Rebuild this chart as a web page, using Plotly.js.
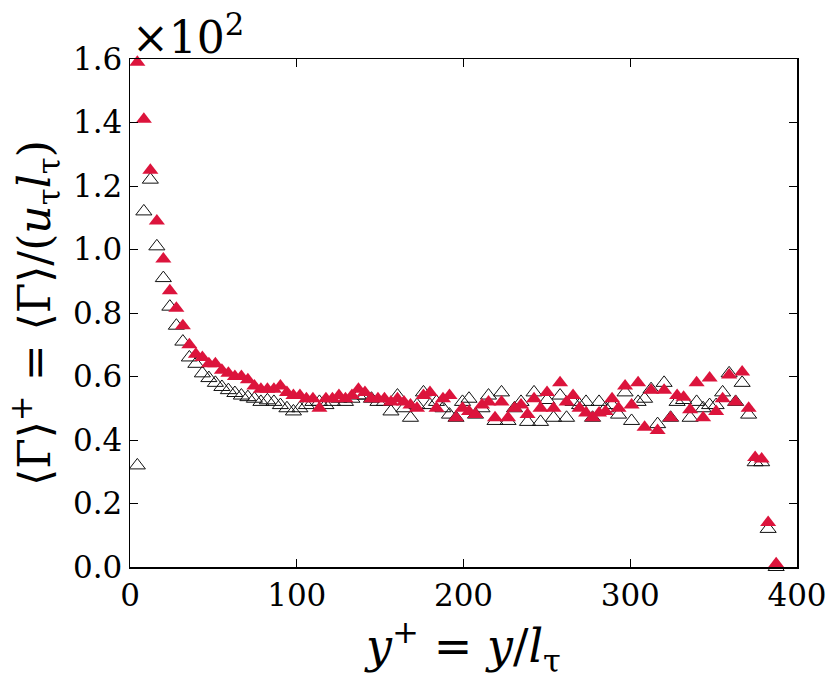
<!DOCTYPE html>
<html>
<head>
<meta charset="utf-8">
<script src="https://cdn.plot.ly/plotly-3.0.1.min.js"></script>
<style>html,body{margin:0;padding:0;background:#fff;}#chart{width:831px;height:686px;}</style>
</head>
<body>
<div id="chart"></div>
<script>
const yPlus = [4.4, 8.3, 12.2, 16.1, 20.0, 23.9, 27.8, 31.7, 35.6, 39.5, 43.4, 47.3, 51.2, 55.1, 59.0, 62.9, 66.8, 70.7, 74.6, 78.5,
  82.4, 86.3, 90.2, 94.1, 98.0, 101.9, 105.8, 109.7, 113.6, 117.5, 121.4, 125.3, 129.2, 133.1, 137.0, 140.9, 144.8, 148.7, 152.6, 156.5,
  160.4, 164.3, 168.2, 172.1, 176.0, 179.9, 183.8, 187.7, 191.6, 195.5, 199.4, 203.3, 207.2, 211.1, 215.0, 218.9, 222.8, 226.7, 230.6, 234.5,
  238.4, 242.3, 246.2, 250.1, 254.0, 257.9, 261.8, 265.7, 269.6, 273.5, 277.4, 281.3, 285.2, 289.1, 293.0, 296.9, 300.8, 304.7, 308.6, 312.5,
  316.4, 320.3, 324.2, 328.1, 332.0, 335.9, 339.8, 343.7, 347.6, 351.5, 355.4, 359.3, 363.2, 367.1, 371.0, 374.9, 378.8, 382.7, 387.5];

const gammaFilled = [1.59, 1.41, 1.25, 1.09, 0.97, 0.87, 0.815, 0.76, 0.70, 0.67, 0.66, 0.64, 0.64, 0.62, 0.61, 0.60, 0.60, 0.59, 0.57, 0.56,
  0.56, 0.56, 0.57, 0.55, 0.54, 0.54, 0.53, 0.53, 0.50, 0.53, 0.53, 0.54, 0.53, 0.54, 0.56, 0.55, 0.53, 0.53, 0.53, 0.52,
  0.53, 0.52, 0.51, 0.50, 0.54, 0.55, 0.50, 0.53, 0.54, 0.47, 0.50, 0.49, 0.48, 0.51, 0.52, 0.47, 0.52, 0.47, 0.50, 0.51,
  0.48, 0.53, 0.50, 0.55, 0.50, 0.58, 0.52, 0.54, 0.50, 0.485, 0.47, 0.485, 0.49, 0.53, 0.50, 0.57, 0.51, 0.58, 0.44, 0.557,
  0.43, 0.557, 0.47, 0.54, 0.535, 0.495, 0.58, 0.47, 0.595, 0.49, 0.53, 0.605, 0.52, 0.614, 0.50, 0.345, 0.34, 0.14, 0.01];

const gammaOpen = [0.32, 1.12, 1.22, 1.01, 0.91, 0.82, 0.76, 0.71, 0.66, 0.64, 0.61, 0.595, 0.58, 0.567, 0.557, 0.548, 0.54, 0.535, 0.53, 0.52,
  0.525, 0.52, 0.51, 0.50, 0.49, 0.50, 0.51, 0.52, 0.52, 0.51, 0.52, 0.53, 0.52, 0.53, 0.54, 0.54, 0.53, 0.52, 0.52, 0.49,
  0.54, 0.50, 0.47, 0.51, 0.55, 0.51, 0.52, 0.50, 0.48, 0.47, 0.52, 0.53, 0.48, 0.50, 0.54, 0.46, 0.55, 0.46, 0.50, 0.52,
  0.457, 0.55, 0.457, 0.526, 0.47, 0.54, 0.47, 0.52, 0.51, 0.52, 0.47, 0.52, 0.50, 0.51, 0.48, 0.55, 0.46, 0.52, 0.53, 0.56,
  0.45, 0.58, 0.47, 0.52, 0.526, 0.47, 0.52, 0.50, 0.51, 0.51, 0.55, 0.61, 0.52, 0.58, 0.48, 0.33, 0.33, 0.12, 0.0];

const xTicks = [0, 100, 200, 300, 400];
const yTicks = [0.0, 0.2, 0.4, 0.6, 0.8, 1.0, 1.2, 1.4, 1.6];

const serif = 'DejaVu Serif';

const traces = [
  {
    x: yPlus, y: gammaOpen, type: 'scatter', mode: 'markers', name: 'open',
    marker: {symbol: 'triangle-up-open', size: 14, color: '#111111', line: {width: 1, color: '#111111'}},
    cliponaxis: false
  },
  {
    x: yPlus, y: gammaFilled, type: 'scatter', mode: 'markers', name: 'filled',
    marker: {symbol: 'triangle-up', size: 14, color: '#DC143C', line: {width: 0}},
    cliponaxis: false
  }
];

const axisCommon = {
  showgrid: false, zeroline: false, showline: true, linecolor: '#000', linewidth: 1.5,
  mirror: 'ticks', ticks: 'inside', ticklen: 8, tickwidth: 1, tickcolor: '#000',
  tickfont: {family: serif, size: 31, color: '#000'}
};

const layout = {
  width: 831, height: 686,
  margin: {l: 130, r: 34, t: 59, b: 119},
  paper_bgcolor: '#fff', plot_bgcolor: '#fff',
  showlegend: false,
  font: {family: serif, color: '#000'},
  xaxis: Object.assign({}, axisCommon, {
    range: [0, 400], tickvals: xTicks, ticktext: xTicks.map(String),
    title: {text: '<i>y</i><sup>+</sup> = <i>y</i>/<i>l</i><sub>τ</sub>', font: {family: serif, size: 46, color: '#000'}, standoff: 0}
  }),
  yaxis: Object.assign({}, axisCommon, {
    range: [0, 1.6], tickvals: yTicks, ticktext: yTicks.map(v => v.toFixed(1)),
    title: {text: '⟨Γ⟩<sup>+</sup> = ⟨Γ⟩/(<i>u</i><sub>τ</sub><i>l</i><sub>τ</sub>)', font: {family: serif, size: 44, color: '#000'}, standoff: 8}
  }),
  annotations: [{
    xref: 'paper', yref: 'paper', x: 0.0, y: 1.0, xanchor: 'left', yanchor: 'bottom', yshift: -6,
    text: '×10<sup>2</sup>', showarrow: false, font: {family: serif, size: 44, color: '#000'}
  }]
};

Plotly.newPlot('chart', traces, layout, {staticPlot: true, displayModeBar: false});
</script>
</body>
</html>
